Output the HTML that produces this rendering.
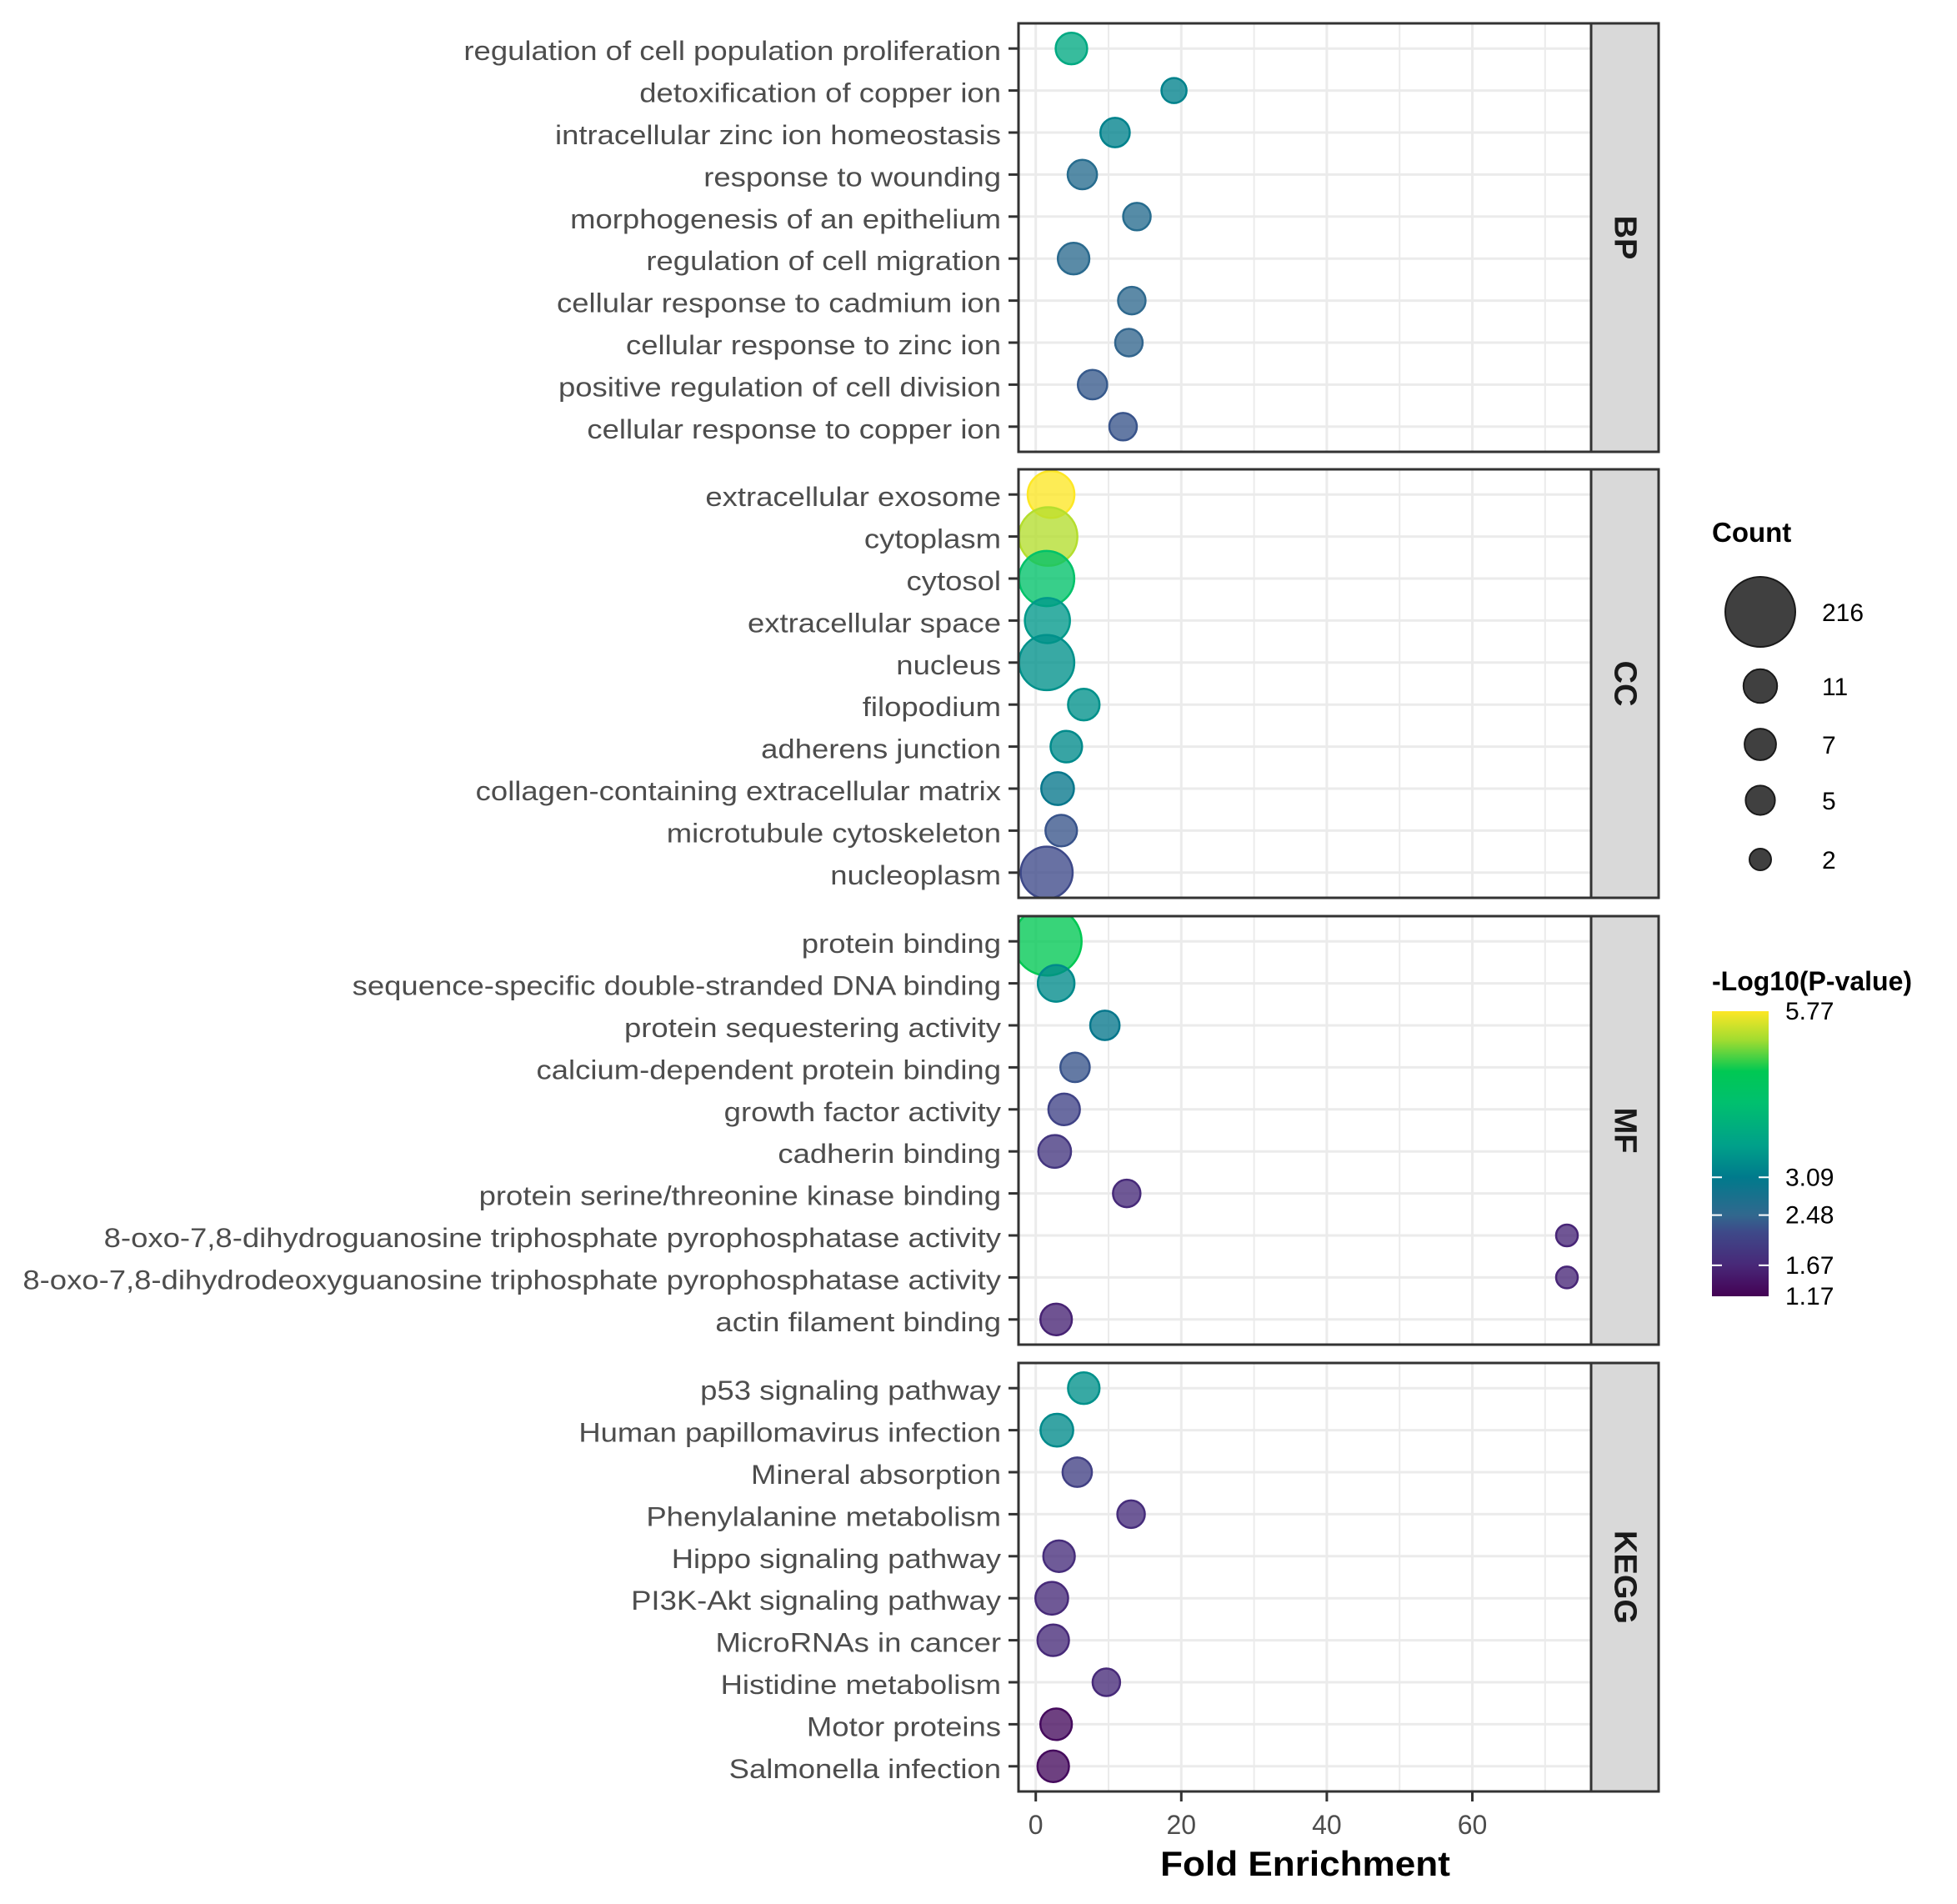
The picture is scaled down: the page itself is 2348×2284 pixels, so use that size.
<!DOCTYPE html>
<html><head><meta charset="utf-8"><style>
html,body{margin:0;padding:0;background:#fff;}
svg{display:block;font-family:"Liberation Sans",Arial,sans-serif;}
</style></head><body>
<svg id="chart" width="2348" height="2284" viewBox="0 0 2348 2284" xmlns="http://www.w3.org/2000/svg">
<defs id="defs"></defs>
<g id="panels"></g>
<g id="legend"></g>
</svg>
<script>
const panelNames = ["BP","CC","MF","KEGG"];
const bpTerms = ["regulation of cell population proliferation","detoxification of copper ion","intracellular zinc ion homeostasis","response to wounding","morphogenesis of an epithelium","regulation of cell migration","cellular response to cadmium ion","cellular response to zinc ion","positive regulation of cell division","cellular response to copper ion"];
const bpFold = [4.9,19.0,10.9,6.4,13.9,5.2,13.2,12.8,7.8,12.0];
const bpCount = [7,3,5,5,4,7,4,4,5,4];
const bpLogP = [3.8,3.2,3.2,2.6,2.6,2.55,2.5,2.45,2.35,2.3];
const ccTerms = ["extracellular exosome","cytoplasm","cytosol","extracellular space","nucleus","filopodium","adherens junction","collagen-containing extracellular matrix","microtubule cytoskeleton","nucleoplasm"];
const ccFold = [2.1,1.7,1.5,1.6,1.5,6.6,4.2,3.0,3.5,1.5];
const ccCount = [32,84,64,28,64,7,7,9,7,49];
const ccLogP = [5.77,5.4,4.4,3.5,3.4,3.4,3.3,3.0,2.3,2.2];
const mfTerms = ["protein binding","sequence-specific double-stranded DNA binding","protein sequestering activity","calcium-dependent protein binding","growth factor activity","cadherin binding","protein serine/threonine kinase binding","8-oxo-7,8-dihydroguanosine triphosphate pyrophosphatase activity","8-oxo-7,8-dihydrodeoxyguanosine triphosphate pyrophosphatase activity","actin filament binding"];
const mfFold = [1.6,2.8,9.5,5.4,3.9,2.6,12.5,73.0,73.0,2.8];
const mfCount = [189,14,5,5,7,9,4,2,2,7];
const mfLogP = [4.8,3.3,3.0,2.3,2.1,1.9,1.7,1.65,1.65,1.6];
const keggTerms = ["p53 signaling pathway","Human papillomavirus infection","Mineral absorption","Phenylalanine metabolism","Hippo signaling pathway","PI3K-Akt signaling pathway","MicroRNAs in cancer","Histidine metabolism","Motor proteins","Salmonella infection"];
const keggFold = [6.6,2.9,5.7,13.1,3.2,2.2,2.4,9.7,2.8,2.4];
const keggCount = [7,9,5,4,7,9,7,4,7,7];
const keggLogP = [3.4,3.3,2.05,1.75,1.75,1.7,1.7,1.7,1.3,1.3];
const xTicks = [0,20,40,60];
const xMinor = [10,30,50,70];
const sizeBreaks = [216,11,7,5,2];
const colorBreaks = [5.77,3.09,2.48,1.67,1.17];

const NS="http://www.w3.org/2000/svg";
const svg=document.getElementById('chart');
const panelsG=document.getElementById('panels');
const legendG=document.getElementById('legend');
const defs=document.getElementById('defs');
const PL=1222, PR=1909, SR=1990, PH=514, PTOP=[28,563,1099,1635];
const X0=1242.7, XU=8.73;
const xs=v=>X0+v*XU;
const rowY=(top,i)=>top+30.2+i*50.4;
const sizeKeyC=[2,5,7,11,216], sizeKeyR=[13,17.6,18.9,20.2,42];
function rs(c){const l=Math.log(c);
  if(l<=Math.log(2))return 13;
  for(let i=0;i<sizeKeyC.length-1;i++){const a=Math.log(sizeKeyC[i]),b=Math.log(sizeKeyC[i+1]);
    if(l<=b)return sizeKeyR[i]+(sizeKeyR[i+1]-sizeKeyR[i])*(l-a)/(b-a);}
  return 42;}
const cStops=[[1.17,[68,1,84]],[1.67,[72,40,120]],[2.2,[62,73,137]],[2.48,[49,104,142]],[3.09,[0,122,140]],[3.6,[0,160,138]],[4.3,[0,192,110]],[4.8,[0,200,83]],[5.3,[160,220,48]],[5.77,[253,231,37]]];
function cs(v){if(v<=cStops[0][0])return cStops[0][1];
  for(let i=0;i<cStops.length-1;i++){const [a,ca]=cStops[i],[b,cb]=cStops[i+1];
    if(v<=b){const t=(v-a)/(b-a);return ca.map((x,k)=>Math.round(x+(cb[k]-x)*t));}}
  return cStops[cStops.length-1][1];}
const rgb=c=>`rgb(${c[0]},${c[1]},${c[2]})`;
function el(tag,attrs,parent){const e=document.createElementNS(NS,tag);for(const k in attrs)e.setAttribute(k,attrs[k]);(parent||svg).appendChild(e);return e;}

const panelData=[[bpTerms,bpFold,bpCount,bpLogP],[ccTerms,ccFold,ccCount,ccLogP],[mfTerms,mfFold,mfCount,mfLogP],[keggTerms,keggFold,keggCount,keggLogP]];
panelData.forEach((pd,p)=>{
  const [terms,fold,count,lp]=pd; const top=PTOP[p]; const name=panelNames[p].toLowerCase();
  const g=el('g',{},panelsG);
  
  
  const cp=el('clipPath',{id:'clip'+p},defs); el('rect',{x:PL,y:top,width:PR-PL,height:PH},cp);
  xMinor.forEach(v=>{const l=el('line',{x1:xs(v),x2:xs(v),y1:top,y2:top+PH,stroke:'#ebebeb','stroke-width':2},g);
    
    });
  xTicks.forEach(v=>{const l=el('line',{x1:xs(v),x2:xs(v),y1:top,y2:top+PH,stroke:'#ebebeb','stroke-width':3},g);
    
    });
  terms.forEach((t,i)=>{const y=rowY(top,i);
    const l=el('line',{x1:PL,x2:PR,y1:y,y2:y,stroke:'#ebebeb','stroke-width':3},g);
    
    
    const tk=el('line',{x1:1210,x2:PL,y1:y,y2:y,stroke:'#333','stroke-width':3},g);
    
    
    const tx=el('text',{x:1201,y:y+14,'text-anchor':'end','font-size':32,fill:'#4d4d4d',transform:'translate(1201,0) scale(1.14,1) translate(-1201,0)'},g);
    tx.textContent=t;
    
    });
  const pg=el('g',{'clip-path':`url(#clip${p})`},g);
  terms.forEach((t,i)=>{const c=rgb(cs(lp[i]));
    const ci=el('circle',{cx:xs(fold[i]),cy:rowY(top,i),r:rs(count[i]),fill:c,'fill-opacity':0.78,stroke:c,'stroke-width':2.5},pg);
    
    });
  const b=el('rect',{x:PL,y:top,width:PR-PL,height:PH,fill:'none',stroke:'#333','stroke-width':3},g);
  
  
  const s=el('rect',{x:PR,y:top,width:SR-PR,height:PH,fill:'#d9d9d9',stroke:'#333','stroke-width':3},g);
  
  
  const cx=(PR+SR)/2, cy=top+PH/2;
  const st=el('text',{x:cx,y:cy,'text-anchor':'middle','dominant-baseline':'central','font-size':38,'font-weight':'bold',fill:'#1a1a1a',transform:`rotate(90 ${cx} ${cy})`},g);
  st.textContent=panelNames[p];
  
  
});
const bottom=PTOP[3]+PH;
xTicks.forEach(v=>{
  const tk=el('line',{x1:xs(v),x2:xs(v),y1:bottom,y2:bottom+12,stroke:'#333','stroke-width':3});
  
  
  const t=el('text',{x:xs(v),y:2200,'text-anchor':'middle','font-size':32,fill:'#4d4d4d'});
  t.textContent=String(v);
  
  
});
const xt=el('text',{x:1566,y:2250,'text-anchor':'middle','font-size':42,'font-weight':'bold',fill:'#000',transform:'translate(1566,0) scale(1.05,1) translate(-1566,0)'});
xt.textContent='Fold Enrichment';


const lt=el('text',{x:2054,y:650,'font-size':33,'font-weight':'bold',fill:'#000'},legendG);
lt.textContent='Count';


const keyY=[734,823,893,960,1031];
sizeBreaks.forEach((c,i)=>{
  const ci=el('circle',{cx:2112,cy:keyY[i],r:rs(c),fill:'#404040',stroke:'#1a1a1a','stroke-width':2},legendG);
  
  
  const t=el('text',{x:2186,y:keyY[i]+11,'font-size':30,fill:'#000'},legendG);
  t.textContent=String(c);
  
  
});
const CB={x:2054,w:68,top:1213,bot:1555,vmin:1.17,vmax:5.77};
const cy2=v=>CB.bot-(v-CB.vmin)/(CB.vmax-CB.vmin)*(CB.bot-CB.top);
const ct=el('text',{x:2054,y:1188,'font-size':32,'font-weight':'bold',fill:'#000'},legendG);
ct.textContent='-Log10(P-value)';


const gr=el('linearGradient',{id:'cbg',x1:0,y1:1,x2:0,y2:0},defs);
cStops.forEach(s=>{el('stop',{offset:(s[0]-CB.vmin)/(CB.vmax-CB.vmin),'stop-color':rgb(s[1])},gr);});
const cb=el('rect',{x:CB.x,y:CB.top,width:CB.w,height:CB.bot-CB.top,fill:'url(#cbg)'},legendG);


colorBreaks.forEach(v=>{const y=cy2(v);
  if(v>CB.vmin&&v<CB.vmax){
    el('line',{x1:CB.x,x2:CB.x+12,y1:y,y2:y,stroke:'#fff','stroke-width':2},legendG);
    el('line',{x1:CB.x+CB.w-12,x2:CB.x+CB.w,y1:y,y2:y,stroke:'#fff','stroke-width':2},legendG);}
  const t=el('text',{x:2142,y:y+10,'font-size':30,fill:'#000'},legendG);
  t.textContent=v.toFixed(2);
  
  
});
</script>
</body></html>
